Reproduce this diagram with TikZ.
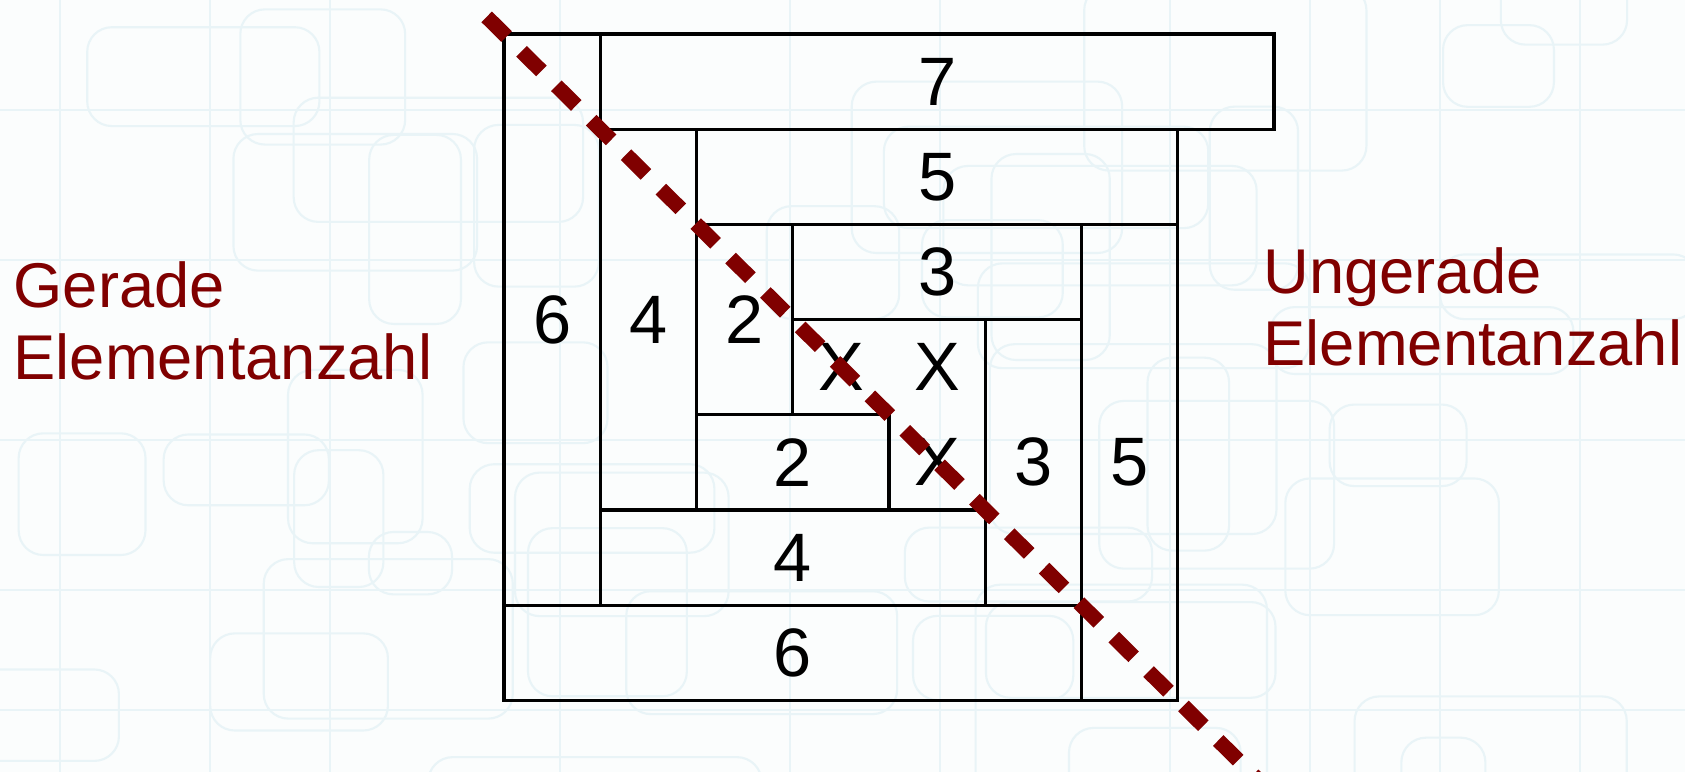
\documentclass[tikz,border=0pt]{standalone}
\usepackage{fontspec}
\setmainfont{Liberation Sans}
\definecolor{darkred}{RGB}{128,0,0}
\definecolor{paper}{RGB}{251,253,253}
\definecolor{haze}{RGB}{233,244,247}
\newcommand{\cw}{0.9625}
\newcommand{\ch}{0.952}
\tikzset{
  piece/.style={draw=black,line width=0.9pt,inner sep=0pt,
    font=\fontsize{19.5}{20}\selectfont},
  xtag/.style={inner sep=0pt,font=\fontsize{19.5}{20}\selectfont},
  side/.style={text=darkred,font=\fontsize{18}{20.7}\selectfont,align=left,inner sep=0pt},
  cut/.style={draw=darkred,line width=1.5mm,dash pattern=on 2.8mm off 2.1mm},
  deco/.style={draw=haze,line width=0.6pt,rounded corners=7pt},
}
% name, column, row, width, height, text
\newcommand{\piece}[6]{%
  \node[piece,minimum width=#4*\cw cm,minimum height=#5*\ch cm] (#1) at ({#2+#4/2},{#3+#5/2}) {#6};}

\begin{document}
\begin{tikzpicture}
  \useasboundingbox (0,0) rectangle (16.85,-7.72);
  \fill[paper] (0,0) rectangle (16.85,-7.72);
  \begin{scope}
    \clip (0,0) rectangle (16.85,-7.72);
    % faint background pattern
    \pgfmathsetseed{11}
    \foreach \i in {1,...,45}{
      \pgfmathsetmacro{\px}{rnd*17-0.5}
      \pgfmathsetmacro{\py}{-rnd*8+0.3}
      \pgfmathsetmacro{\pw}{0.8+rnd*2.6}
      \pgfmathsetmacro{\ph}{0.6+rnd*1.6}
      \draw[deco] (\px,\py) rectangle ++(\pw,-\ph);
    }
    \foreach \x in {0.6,2.1,3.3,5.6,7.9,9.4,11.7,13.1,14.4,15.8}
      \draw[haze,line width=0.5pt] (\x,0) -- (\x,-7.72);
    \foreach \y in {-1.1,-2.6,-4.4,-5.9,-7.1}
      \draw[haze,line width=0.5pt] (0,\y) -- (16.85,\y);
  \end{scope}

  \node[side,anchor=base west] (even) at (0.13,-3.80) {Gerade\\Elementanzahl};
  \node[side,anchor=base west] (odd) at (12.63,-3.66) {Ungerade\\Elementanzahl};

  \begin{scope}[shift={(5.04,-0.34)},x=\cw cm,y=-\ch cm]
    \piece{b7}{1}{0}{7}{1}{7}
    \piece{b6l}{0}{0}{1}{6}{6}
    \piece{b5t}{2}{1}{5}{1}{5}
    \piece{b4l}{1}{1}{1}{4}{4}
    \piece{b3t}{3}{2}{3}{1}{3}
    \piece{b2l}{2}{2}{1}{2}{2}
    \piece{b2b}{2}{4}{2}{1}{2}
    \piece{b3r}{5}{3}{1}{3}{3}
    \piece{b4b}{1}{5}{4}{1}{4}
    \piece{b5r}{6}{2}{1}{5}{5}
    \piece{b6b}{0}{6}{6}{1}{6}
    \node[xtag] (xa) at (3.5,3.5) {X};
    \node[xtag] (xb) at (4.5,3.5) {X};
    \node[xtag] (xc) at (4.5,4.5) {X};
    \coordinate (cuttop) at (-0.18,-0.18);
    \coordinate (cutend) at (8.2,8.2);
    \begin{scope}
      \clip (-6,-1) rectangle (13,7.75);
      \draw[cut] (cuttop) -- (cutend);
    \end{scope}
  \end{scope}
\end{tikzpicture}
\end{document}
